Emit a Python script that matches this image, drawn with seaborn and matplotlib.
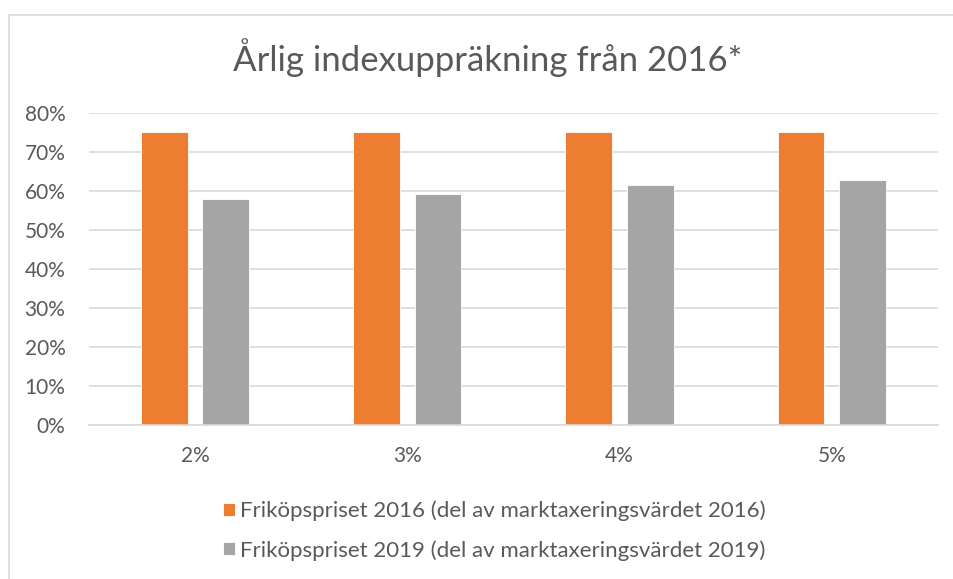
import pandas as pd
import matplotlib
matplotlib.use("Agg")
import matplotlib.pyplot as plt
import seaborn as sns
from matplotlib.patches import Rectangle
from matplotlib.ticker import PercentFormatter

# Data
categories = ["2%", "3%", "4%", "5%"]
series_names = [
    "Friköpspriset 2016 (del av marktaxeringsvärdet 2016)",
    "Friköpspriset 2019 (del av marktaxeringsvärdet 2019)",
]
values_2016 = [0.75, 0.75, 0.75, 0.75]
values_2019 = [0.579, 0.593, 0.614, 0.629]
colors = ["#ED7D31", "#A5A5A5"]
yticks = [0, 0.1, 0.2, 0.3, 0.4, 0.5, 0.6, 0.7, 0.8]

df = pd.DataFrame({
    "index": categories * 2,
    "serie": [series_names[0]] * 4 + [series_names[1]] * 4,
    "andel": values_2016 + values_2019,
})

sns.set_style("white")
plt.rcParams["font.family"] = ["Lato", "DejaVu Sans"]
text_color = "#595959"

fig = plt.figure(figsize=(9.54, 5.79), dpi=100)
ax = fig.add_axes([0.0933, 0.266, 0.8897, 0.539])

sns.barplot(data=df, x="index", y="andel", hue="serie", palette=colors,
            width=0.58, gap=0.24, ax=ax, legend=True, saturation=1,
            edgecolor="white", linewidth=0.6)

ax.set_ylim(0, 0.8)
ax.set_xlim(-0.5, 3.5)
ax.set_yticks(yticks)
ax.yaxis.set_major_formatter(PercentFormatter(1.0, decimals=0))
ax.grid(axis="y", color="#D9D9D9", linewidth=1.2)
ax.set_axisbelow(True)
for s in ["top", "right", "left"]:
    ax.spines[s].set_visible(False)
ax.spines["bottom"].set_color("#D9D9D9")
ax.spines["bottom"].set_linewidth(1.2)
ax.tick_params(axis="both", length=0, labelsize=15, colors=text_color)
ax.tick_params(axis="y", pad=17)
ax.tick_params(axis="x", pad=15)
ax.set_xlabel("")
ax.set_ylabel("")

handles, labels = ax.get_legend_handles_labels()
ax.legend_.remove()
fig.legend(handles, labels, loc="upper left", bbox_to_anchor=(0.213, 0.170),
           frameon=False, fontsize=16, labelcolor=text_color,
           handlelength=0.55, handleheight=0.55, handletextpad=0.2,
           labelspacing=0.85)

fig.text(0.511, 1 - 58 / 579, "Årlig indexuppräkning från 2016*",
         ha="center", va="center", fontsize=25, color=text_color)

# light chart-area frame (left and top visible as in the reference)
fig.patches.append(Rectangle((9.5 / 954, -0.1), 1.2, 1 - 15.5 / 579 + 0.1,
                             transform=fig.transFigure, fill=False,
                             edgecolor="#D9D9D9", linewidth=1.2))

fig.savefig("out.png", dpi=100)
